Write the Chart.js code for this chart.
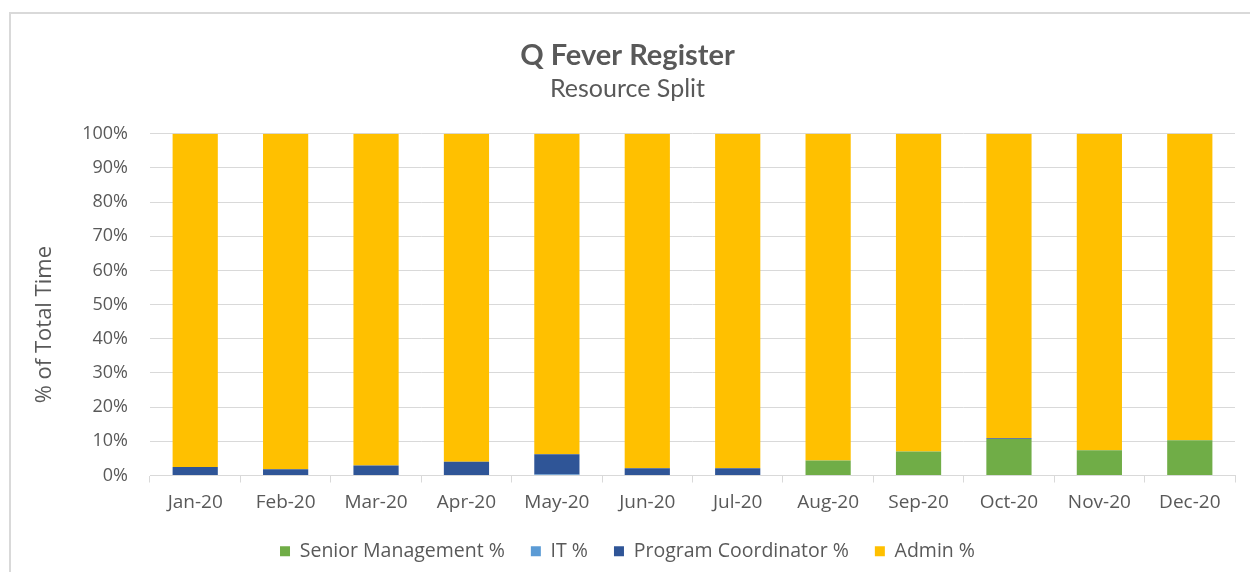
<!DOCTYPE html>
<html>
<head>
<meta charset="utf-8">
<script src="https://cdn.jsdelivr.net/npm/chart.js@4.4.1/dist/chart.umd.min.js"></script>
<style>
  html, body { margin: 0; padding: 0; background: #ffffff; overflow: hidden; }
  #wrap { position: absolute; left: 0; top: 0; width: 1250px; height: 572px; overflow: hidden; }
  #frame { position: absolute; left: 9px; top: 12px; width: 1300px; height: 600px; border-left: 2px solid #d9d9d9; border-top: 2px solid #d9d9d9; }
  canvas { position: absolute; left: 0; top: 0; }
</style>
</head>
<body>
<div id="wrap">
  <div id="frame"></div>
  <canvas id="c" width="1250" height="600"></canvas>
</div>
<script>
const categories = ["Jan-20","Feb-20","Mar-20","Apr-20","May-20","Jun-20","Jul-20","Aug-20","Sep-20","Oct-20","Nov-20","Dec-20"];
const seniorManagement = [0, 0, 0, 0, 0, 0, 0, 4.4, 7.0, 10.7, 7.4, 10.3];
const itPct = [0, 0, 0, 0, 0.3, 0, 0, 0, 0, 0, 0, 0];
const programCoordinator = [2.5, 1.8, 2.9, 4.0, 5.9, 2.1, 2.1, 0, 0, 0.2, 0, 0];
const admin = [97.5, 98.2, 97.1, 96.0, 93.8, 97.9, 97.9, 95.6, 93.0, 89.1, 92.6, 89.7];
const yTicks = [0,10,20,30,40,50,60,70,80,90,100];
const yAxisTitle = "% of Total Time";

const TFONT = "Lato, 'Open Sans', sans-serif";
const FONT = "'Open Sans', Lato, sans-serif";
const TXT = "#595959";

// Y axis title, placed as in the reference (slightly below the plot's middle)
const yTitlePlugin = {
  id: "yTitle",
  afterDraw(chart) {
    const ctx = chart.ctx;
    const a = chart.chartArea;
    ctx.save();
    ctx.fillStyle = TXT;
    ctx.font = "22px 'Open Sans', Lato, sans-serif";
    ctx.textAlign = "center";
    ctx.textBaseline = "middle";
    ctx.translate(a.left - 105, (a.top + a.bottom) / 2 + 20);
    ctx.rotate(-Math.PI / 2);
    ctx.fillText(yAxisTitle, 0, 0);
    ctx.restore();
  }
};

new Chart(document.getElementById("c"), {
  type: "bar",
  data: {
    labels: categories,
    datasets: [
      { label: "Senior Management %", data: seniorManagement, backgroundColor: "#70AD47" },
      { label: "IT %", data: itPct, backgroundColor: "#5B9BD5" },
      { label: "Program Coordinator %", data: programCoordinator, backgroundColor: "#2F5597" },
      { label: "Admin %", data: admin, backgroundColor: "#FFC000" }
    ]
  },
  plugins: [yTitlePlugin],
  options: {
    responsive: false,
    animation: false,
    devicePixelRatio: 1,
    layout: { padding: { left: 20, right: 15, top: 10, bottom: 29 } },
    datasets: { bar: { categoryPercentage: 1.0, barPercentage: 0.5, borderWidth: 0 } },
    plugins: {
      title: {
        display: true, text: "Q Fever Register", color: TXT,
        font: { family: TFONT, size: 29, weight: "bold" },
        padding: { top: 28, bottom: 1 }
      },
      subtitle: {
        display: true, text: "Resource Split", color: TXT,
        font: { family: TFONT, size: 25 },
        padding: { top: 0, bottom: 30 }
      },
      legend: {
        position: "bottom",
        labels: {
          color: TXT, font: { family: FONT, size: 19.5 },
          boxWidth: 10, boxHeight: 10, padding: 26
        }
      },
      tooltip: { enabled: false }
    },
    scales: {
      x: {
        stacked: true,
        grid: { display: true, drawOnChartArea: false, drawTicks: true, tickLength: 7, color: "#d9d9d9", offset: true },
        border: { display: true, color: "#d9d9d9", width: 1 },
        ticks: { color: TXT, font: { family: FONT, size: 19 }, padding: 9, maxRotation: 0 },
        afterFit: (s) => { s.height = 40; }
      },
      y: {
        stacked: true,
        min: 0, max: 100,
        afterBuildTicks: (s) => { s.ticks = yTicks.map(v => ({ value: v })); },
        grid: { color: "#d9d9d9", drawTicks: false, lineWidth: 1 },
        border: { display: false },
        ticks: { color: TXT, font: { family: FONT, size: 18 }, padding: 22, callback: (v) => v + "%" },
        afterFit: (s) => { s.width = 130; }
      }
    }
  }
});
</script>
</body>
</html>
